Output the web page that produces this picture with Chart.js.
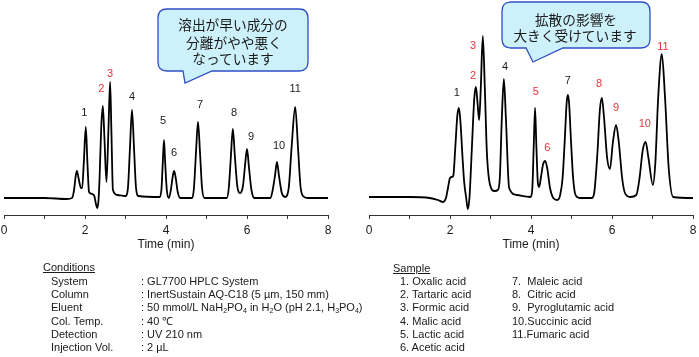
<!DOCTYPE html>
<html>
<head>
<meta charset="utf-8">
<script src="https://cdn.jsdelivr.net/npm/chart.js@4/dist/chart.umd.min.js"></script>
<style>
    body { margin: 0; background: #fff; }
    #page { position: relative; width: 699px; height: 357px; overflow: hidden; background: #fff;
            font-family: 'Liberation Sans', Arial, sans-serif; color: #1a1a1a; }
    canvas { position: absolute; top: 0; }
    #leftChart { left: 0; }
    #rightChart { left: 350px; }
    #bubbles { position: absolute; left: 0; top: 0; }
    .txt { position: absolute; font-size: 11px; line-height: 13px; white-space: nowrap; }
    .head { text-decoration: underline; }
    sub { font-size: 7px; vertical-align: -2px; line-height: 0; }
</style>
</head>
<body>
<div id="page">
    <canvas id="leftChart" width="349" height="260"></canvas>
    <canvas id="rightChart" width="349" height="260"></canvas>
    <svg id="bubbles" width="699" height="357">
        <path d="M 167 9 H 299 Q 308 9 308 18 V 62 Q 308 71 299 71 H 212 L 185 83 L 183 71 H 167 Q 158 71 158 62 V 18 Q 158 9 167 9 Z"
              fill="#cdf1fb" stroke="#2f4fc6" stroke-width="1.3"/>
        <path d="M 511 2 H 641 Q 650 2 650 11 V 39 Q 650 48 641 48 H 563 L 533 62 L 526 48 H 511 Q 502 48 502 39 V 11 Q 502 2 511 2 Z"
              fill="#cdf1fb" stroke="#2f4fc6" stroke-width="1.3"/>
        <g font-family="'Noto Sans CJK JP'" font-size="13.7" fill="#1a1a1a" text-anchor="middle" dominant-baseline="central">
            <text x="233" y="24">溶出が早い成分の</text>
            <text x="234" y="42">分離がやや悪く</text>
            <text x="233" y="58">なっています</text>
            <text x="576" y="19">拡散の影響を</text>
            <text x="575" y="35">大きく受けています</text>
        </g>
    </svg>
    <div id="conditions"></div>
    <div id="samples"></div>
</div>
<script>
// Time axis
const tickValues = [0, 1, 2, 3, 4, 5, 6, 7, 8];
const tickLabels = ['0', '', '2', '', '4', '', '6', '', '8'];

// Left chromatogram trace (time in min, signal)
const leftTime = [0.00, 1.00, 1.55, 1.68, 1.73, 1.77, 1.80, 1.84, 1.90, 1.93, 1.97, 2.02, 2.06, 2.10, 2.18, 2.23,
    2.27, 2.30, 2.33, 2.36, 2.40, 2.44, 2.48, 2.53, 2.58, 2.62, 2.65, 2.69, 2.80, 3.00, 3.06, 3.11,
    3.16, 3.21, 3.26, 3.32, 3.85, 3.89, 3.92, 3.95, 3.98, 4.02, 4.07, 4.12, 4.16, 4.20, 4.24, 4.29,
    4.35, 4.65, 4.69, 4.74, 4.79, 4.84, 4.89, 4.95, 5.50, 5.55, 5.60, 5.65, 5.70, 5.76, 5.83, 5.90,
    5.95, 6.00, 6.05, 6.11, 6.18, 6.58, 6.63, 6.69, 6.74, 6.79, 6.86, 6.94, 7.03, 7.10, 7.19, 7.26,
    7.32, 7.38, 7.50, 8.00];
const leftSignal = [0, 0, -1, 0, 8, 22, 27, 20, 10, 10, 35, 71, 35, 6, 4, 2,
    -6, -10, -4, 20, 70, 92, 60, 16, 70, 116, 70, 8, 3, 2, 10, 50,
    88, 50, 10, 2, 1, 10, 35, 58, 35, 8, 0, 8, 20, 27, 20, 6,
    0, 0, 10, 45, 76, 45, 10, 0, 0, 10, 40, 69, 42, 12, 5, 12,
    32, 49, 30, 8, 0, 0, 7, 22, 36, 22, 5, 1, 10, 50, 91, 50,
    12, 2, 0, 0];

// Right chromatogram trace
const rightTime = [0.00, 1.00, 1.50, 1.70, 1.83, 1.90, 1.95, 2.00, 2.04, 2.08, 2.13, 2.18, 2.22, 2.26, 2.31, 2.35,
    2.40, 2.44, 2.48, 2.54, 2.60, 2.64, 2.68, 2.72, 2.76, 2.81, 2.86, 2.91, 2.99, 3.10, 3.18, 3.23,
    3.28, 3.33, 3.38, 3.46, 3.65, 3.98, 4.03, 4.07, 4.10, 4.13, 4.17, 4.20, 4.25, 4.30, 4.35, 4.40,
    4.47, 4.55, 4.65, 4.72, 4.78, 4.83, 4.88, 4.91, 4.94, 4.99, 5.04, 5.10, 5.20, 5.50, 5.56, 5.64,
    5.70, 5.75, 5.80, 5.88, 5.95, 6.02, 6.10, 6.17, 6.25, 6.32, 6.45, 6.60, 6.68, 6.76, 6.83, 6.90,
    7.01, 7.07, 7.14, 7.23, 7.31, 7.40, 7.51, 8.00];
const rightSignal = [1, 1, 0, -2, -4, 0, 10, 20, 21, 22, 50, 82, 90, 75, 40, 16,
    0, -11, 0, 50, 100, 111, 95, 78, 110, 162, 110, 46, 13, 7, 8, 20,
    80, 119, 80, 10, 3, 1, 8, 55, 90, 55, 15, 11, 22, 34, 37, 30,
    10, 0, -2, 3, 20, 55, 95, 103, 95, 55, 20, 3, 0, 0, 5, 45,
    88, 100, 82, 40, 29, 55, 73, 55, 20, 5, 1, 3, 20, 48, 56, 40,
    13, 35, 100, 144, 100, 30, 1, 0];

// Peak labels
const peakNames = ['1', '2', '3', '4', '5', '6', '7', '8', '9', '10', '11'];
const leftLabelTime = [1.98, 2.40, 2.62, 3.16, 3.93, 4.20, 4.84, 5.68, 6.10, 6.79, 7.19];
const leftLabelSignal = [85, 109, 124, 101, 77, 45, 93, 85, 61, 52, 109];
const leftRedPeaks = ['2', '3'];
const rightLabelTime = [2.17, 2.57, 2.57, 3.36, 4.12, 4.40, 4.91, 5.68, 6.10, 6.81, 7.26];
const rightLabelSignal = [105, 122, 152, 131, 106, 50, 117, 114, 90, 74, 151];
const rightRedPeaks = ['2', '3', '5', '6', '8', '9', '10', '11'];

// Conditions and sample list
const conditionNames = ['System', 'Column', 'Eluent', 'Col. Temp.', 'Detection', 'Injection Vol.'];
const conditionValues = [
    ': GL7700 HPLC System',
    ': InertSustain AQ-C18 (5 µm, 150 mm)',
    ': 50 mmol/L NaH<sub>2</sub>PO<sub>4</sub> in H<sub>2</sub>O (pH 2.1, H<sub>3</sub>PO<sub>4</sub>)',
    ': 40 ℃',
    ': UV 210 nm',
    ': 2 µL'
];
const sampleNames = ['1. Oxalic acid', '2. Tartaric acid', '3. Formic acid', '4. Malic acid', '5. Lactic acid',
    '6. Acetic acid', '7.&nbsp; Maleic acid', '8.&nbsp; Citric acid', '9.&nbsp; Pyroglutamic acid',
    '10.Succinic acid', '11.Fumaric acid'];

const FONT = "'Liberation Sans', Arial, sans-serif";
const RED = '#e8323c';

// Draws the peak numbers at data coordinates
const peakLabelPlugin = {
    id: 'peakLabels',
    afterDatasetsDraw(chart, args, opts) {
        const { ctx, scales } = chart;
        ctx.save();
        ctx.font = '11px ' + FONT;
        ctx.textAlign = 'center';
        ctx.textBaseline = 'middle';
        peakNames.forEach((name, i) => {
            ctx.fillStyle = opts.red.includes(name) ? RED : '#1a1a1a';
            ctx.fillText(name, scales.x.getPixelForValue(opts.time[i]), scales.y.getPixelForValue(opts.signal[i]));
        });
        ctx.restore();
    }
};

function makeChromatogram(id, times, signal, labelTime, labelSignal, red, padLeft, padRight) {
    const ctx = document.getElementById(id);
    return new Chart(ctx, {
        type: 'line',
        data: {
            datasets: [{
                data: times.map((t, i) => ({ x: t, y: signal[i] })),
                borderColor: '#000',
                borderWidth: 1.8,
                pointRadius: 0,
                cubicInterpolationMode: 'monotone',
                fill: false
            }]
        },
        options: {
            responsive: false,
            animation: false,
            devicePixelRatio: 1,
            layout: { padding: { left: padLeft, right: padRight, top: 0, bottom: 5 } },
            plugins: {
                legend: { display: false },
                tooltip: { enabled: false },
                peakLabels: { time: labelTime, signal: labelSignal, red: red }
            },
            scales: {
                x: {
                    type: 'linear',
                    min: 0,
                    max: 8,
                    // fixed axis height, and let the end labels hang into the padding
                    afterFit: scale => {
                        scale.height = 40;
                        scale.paddingLeft = 0;
                        scale.paddingRight = 0;
                    },
                    afterBuildTicks: scale => { scale.ticks = tickValues.map(v => ({ value: v })); },
                    ticks: {
                        autoSkip: false,
                        maxRotation: 0,
                        padding: 4,
                        color: '#1a1a1a',
                        font: { family: FONT, size: 12 },
                        callback: (v, i) => tickLabels[i]
                    },
                    grid: { drawOnChartArea: false, tickLength: 4, color: '#333' },
                    border: { color: '#333', width: 1 },
                    title: {
                        display: true,
                        text: 'Time (min)',
                        color: '#1a1a1a',
                        font: { family: FONT, size: 12 },
                        padding: { top: 0, bottom: 3 }
                    }
                },
                y: { display: false, min: -17, max: 198 }
            }
        },
        plugins: [peakLabelPlugin]
    });
}

function buildText() {
    const page = document.getElementById('page');
    const add = (html, x, y, cls) => {
        const d = document.createElement('div');
        d.className = 'txt' + (cls ? ' ' + cls : '');
        d.innerHTML = html;
        d.style.left = x + 'px';
        d.style.top = (y - 6.5) + 'px';
        page.appendChild(d);
    };
    const rowY = [281, 294.3, 307.7, 321, 334.3, 347.7];

    add('Conditions', 43, 267.5, 'head');
    conditionNames.forEach((n, i) => {
        add(n, 51, rowY[i]);
        add(conditionValues[i], 141, rowY[i]);
    });

    add('Sample', 393, 268, 'head');
    sampleNames.forEach((s, i) => {
        const col = i < 6 ? 0 : 1;
        add(s, col ? 512 : 400, rowY[col ? i - 6 : i]);
    });
}

document.addEventListener('DOMContentLoaded', function() {
    makeChromatogram('leftChart', leftTime, leftSignal, leftLabelTime, leftLabelSignal, leftRedPeaks, 4, 21);
    makeChromatogram('rightChart', rightTime, rightSignal, rightLabelTime, rightLabelSignal, rightRedPeaks, 19, 6);
    buildText();
});
</script>
</body>
</html>
